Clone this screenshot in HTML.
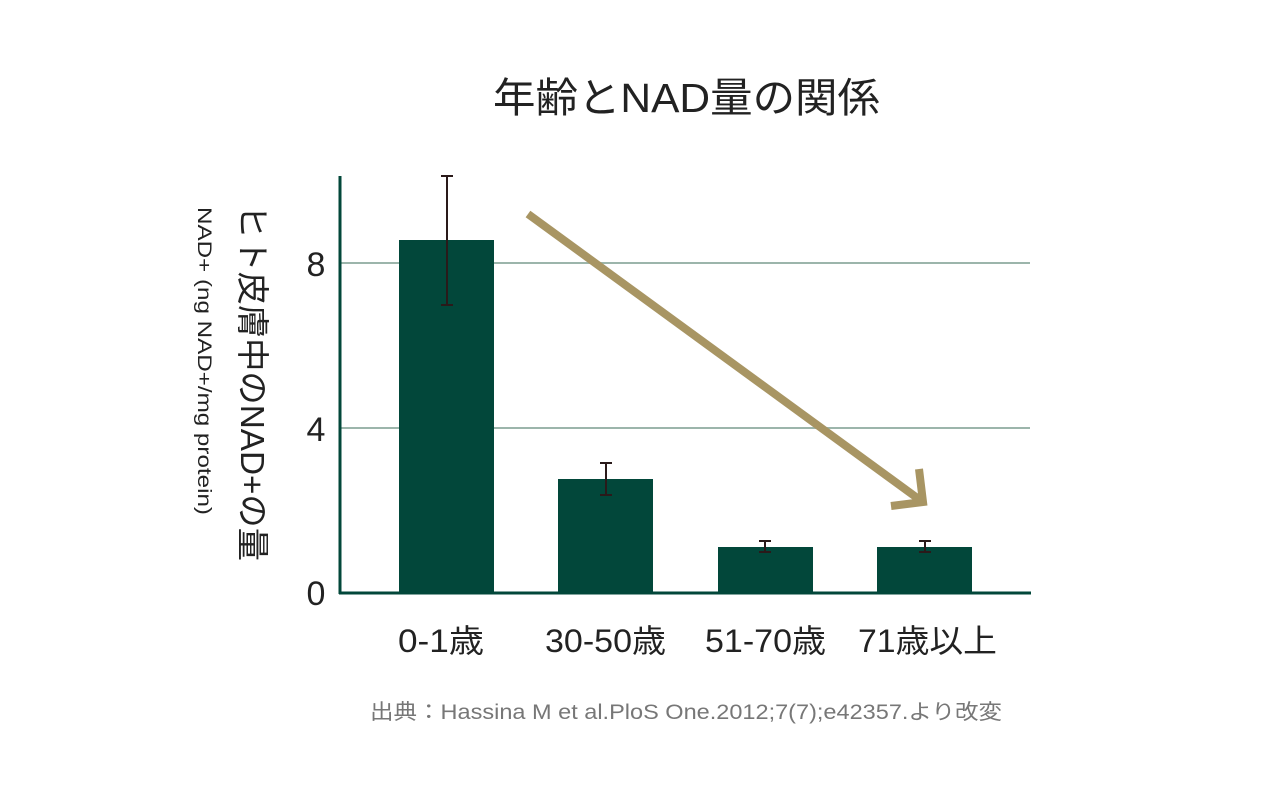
<!DOCTYPE html>
<html><head><meta charset="utf-8"><style>
body{margin:0;background:#fff;}
svg text{font-family:"Liberation Sans","Noto Sans CJK JP",sans-serif;}
</style></head><body>
<svg width="1280" height="795" viewBox="0 0 1280 795">
<text x="493" y="112" font-size="41" textLength="387" lengthAdjust="spacingAndGlyphs" fill="#222">年齢とNAD量の関係</text>
<line x1="340" y1="263" x2="1030" y2="263" stroke="#9cb5ab" stroke-width="2"/>
<line x1="340" y1="428" x2="1030" y2="428" stroke="#9cb5ab" stroke-width="2"/>
<g fill="#02473a">
<rect x="399" y="240" width="95" height="353"/>
<rect x="558" y="479" width="95" height="114"/>
<rect x="718" y="547" width="95" height="46"/>
<rect x="877" y="547" width="95" height="46"/>
</g>
<g stroke="#2a1a1a" stroke-width="2">
<line x1="447" y1="176" x2="447" y2="305"/><line x1="441" y1="176" x2="453" y2="176"/><line x1="441" y1="305" x2="453" y2="305"/>
<line x1="606" y1="463" x2="606" y2="495"/><line x1="600" y1="463" x2="612" y2="463"/><line x1="600" y1="495" x2="612" y2="495"/>
<line x1="765" y1="541" x2="765" y2="552"/><line x1="759" y1="541" x2="771" y2="541"/><line x1="759" y1="552" x2="771" y2="552"/>
<line x1="925" y1="541" x2="925" y2="552"/><line x1="919" y1="541" x2="931" y2="541"/><line x1="919" y1="552" x2="931" y2="552"/>
</g>
<line x1="340" y1="176" x2="340" y2="594" stroke="#02473a" stroke-width="3"/>
<line x1="339" y1="593" x2="1031" y2="593" stroke="#02473a" stroke-width="3"/>
<g stroke="#a89563" stroke-width="8" fill="none">
<line x1="528" y1="214" x2="920" y2="500"/>
<polyline points="919,469 923,502 891,506"/>
</g>
<g font-size="34" fill="#222" text-anchor="middle">
<text x="316" y="276">8</text><text x="316" y="441">4</text><text x="316" y="605">0</text>
</g>
<g font-size="32" fill="#222">
<text x="398" y="652" textLength="86" lengthAdjust="spacingAndGlyphs">0-1歳</text>
<text x="545" y="652" textLength="121" lengthAdjust="spacingAndGlyphs">30-50歳</text>
<text x="705" y="652" textLength="121" lengthAdjust="spacingAndGlyphs">51-70歳</text>
<text x="858" y="652" textLength="139" lengthAdjust="spacingAndGlyphs">71歳以上</text>
</g>
<text transform="translate(241,205) rotate(90)" font-size="33" textLength="356" lengthAdjust="spacingAndGlyphs" fill="#222">ヒト皮膚中のNAD+の量</text>
<text transform="translate(198,207) rotate(90)" font-size="19" textLength="308" lengthAdjust="spacingAndGlyphs" fill="#222">NAD+ (ng NAD+/mg protein)</text>
<text x="370" y="719" font-size="21" textLength="632" lengthAdjust="spacingAndGlyphs" fill="#777">出典：Hassina M et al.PloS One.2012;7(7);e42357.より改変</text>
</svg>
</body></html>
